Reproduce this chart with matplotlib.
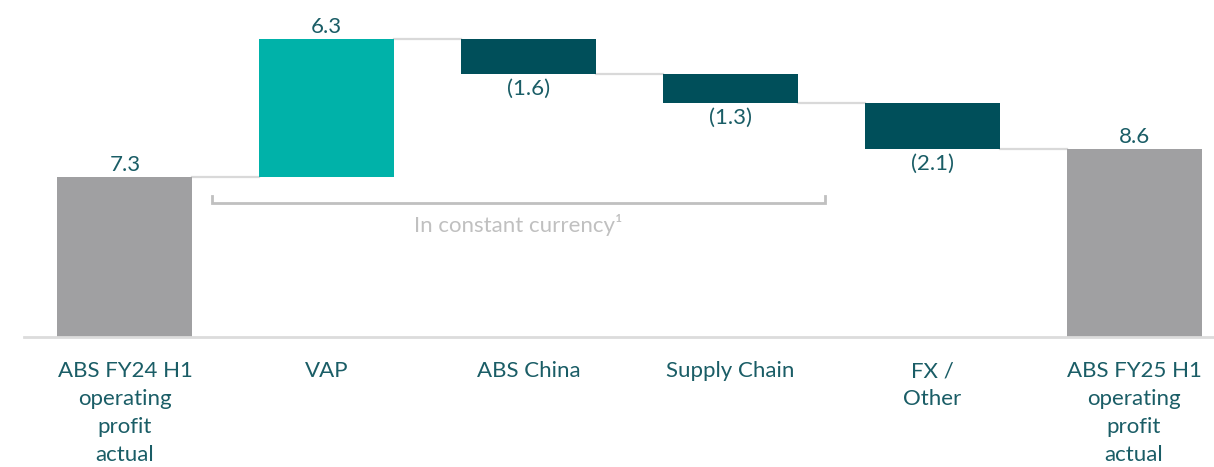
import matplotlib
matplotlib.use("Agg")
import matplotlib.pyplot as plt

categories = ["ABS FY24 H1\noperating\nprofit\nactual", "VAP", "ABS China", "Supply Chain",
              "FX /\nOther", "ABS FY25 H1\noperating\nprofit\nactual"]
values = [7.3, 6.3, -1.6, -1.3, -2.1, 8.6]
value_labels = ["7.3", "6.3", "(1.6)", "(1.3)", "(2.1)", "8.6"]
kinds = ["total", "pos", "neg", "neg", "neg", "total"]
bracket_text = "In constant currency\u00b9"

colors = {"total": "#a0a0a2", "pos": "#00b2a9", "neg": "#004f5a"}
text_color = "#1a5d66"
plt.rcParams['font.family'] = ['Lato', 'DejaVu Sans']
FS = 16

fig = plt.figure(figsize=(12.14, 4.67), dpi=100)
H = 467.0
ax = fig.add_axes([0, 1 - 337 / H, 1, 335 / H])
ax.set_xlim(-0.619, 5.396)
ax.set_ylim(0, 15.3)
ax.axis("off")

w = 0.669
running = 0.0
tops = []
for i, (v, k) in enumerate(zip(values, kinds)):
    if k == "total":
        bottom, height = 0, v
        running = v
    else:
        start = running
        end = running + v
        bottom, height = min(start, end), abs(v)
        running = end
    ax.bar(i, height, bottom=bottom, width=w, color=colors[k], zorder=2)
    tops.append((bottom, bottom + height, running))
    if k == "neg":
        ax.text(i, bottom - 0.22, value_labels[i], ha="center", va="top",
                fontsize=FS, color=text_color)
    else:
        ax.text(i, bottom + height + 0.1, value_labels[i], ha="center", va="bottom",
                fontsize=FS, color=text_color)

# connectors
for i in range(len(values) - 1):
    level = tops[i][2]
    ax.plot([i + w / 2, i + 1 - w / 2], [level, level], color="#d9d9d9", lw=1.6, zorder=1)

# baseline
ax.plot([-0.5, 5.396], [0, 0], color="#dcdcdc", lw=2, zorder=3, clip_on=False)

# bracket
yb = (337 - 203) / 335 * 15.3
ytk = (337 - 196) / 335 * 15.3
x0 = (212 - 125) / 201.8
x1 = (825 - 125) / 201.8
ax.plot([x0, x0, x1, x1], [ytk, yb, yb, ytk], color="#c0c0c0", lw=2, zorder=1,
        solid_joinstyle="miter")
ax.text((x0 + x1) / 2, yb - 0.5, bracket_text, ha="center", va="top",
        fontsize=FS, color="#c0c0c0")

# category labels
for i, c in enumerate(categories):
    fig.text((125 + i * 201.8) / 1214, 1 - 361 / H, c, ha="center", va="top",
             fontsize=FS, color=text_color, linespacing=1.49)

fig.savefig("out.png", dpi=100)
